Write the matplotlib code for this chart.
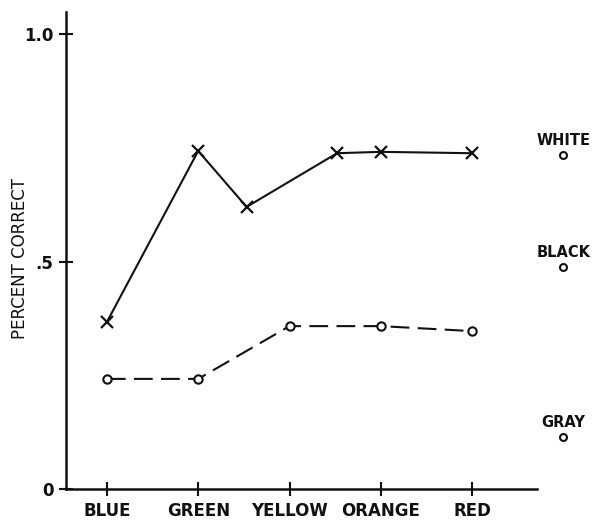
import matplotlib
matplotlib.use('Agg')
import matplotlib.pyplot as plt

# ── Data ──────────────────────────────────────────────────────────────────────
categories = ['BLUE', 'GREEN', 'YELLOW', 'ORANGE', 'RED']
cat_pos    = [0, 1, 2, 3, 4]

# X series (solid line) - includes two points between categories
x_pos  = [0, 1, 1.53, 2.52, 3, 4]
x_vals = [0.367, 0.743, 0.620, 0.738, 0.741, 0.738]

# O series (dashed line)
o_pos  = [0, 1, 2, 3, 4]
o_vals = [0.242, 0.242, 0.358, 0.358, 0.347]

# achromatic reference points on the right
ref_labels = ['WHITE', 'BLACK', 'GRAY']
ref_vals   = [0.734, 0.488, 0.114]
ref_pos    = 5.0

INK = '#111111'
FONT = dict(family='DejaVu Sans', fontweight='bold', color=INK)

fig = plt.figure(figsize=(5.98, 5.2), dpi=100)
ax = fig.add_axes([0.110, 0.0596, 0.788, 0.917])

ax.plot(x_pos, x_vals, color=INK, linewidth=1.5, marker='x',
        markersize=8, markeredgewidth=1.6, clip_on=False)
ax.plot(o_pos, o_vals, color=INK, linewidth=1.5, linestyle=(0, (9, 4)),
        marker='o', markersize=6, markerfacecolor='white',
        markeredgewidth=1.5, clip_on=False)

for lab, v in zip(ref_labels, ref_vals):
    ax.plot([ref_pos], [v], marker='o', markersize=5, color=INK,
            markerfacecolor='white', markeredgewidth=1.5, clip_on=False)
    ax.annotate(lab, xy=(ref_pos, v), xytext=(0, 5), textcoords='offset points',
                ha='center', va='bottom', fontsize=10.5, annotation_clip=False,
                **FONT)

ax.set_xlim(-0.45, 4.71)
ax.set_ylim(0, 1.048)

ax.set_xticks(cat_pos)
ax.set_xticklabels(categories, fontsize=12, **FONT)
ax.set_yticks([0, 0.5, 1.0])
ax.set_yticklabels(['0', '.5', '1.0'], fontsize=12, **FONT)
ax.tick_params(direction='inout', length=10, width=1.5, color=INK, pad=4)

fig.text(20 / 598, 0.502, 'PERCENT CORRECT', rotation=90, ha='center',
         va='center', fontsize=12, fontfamily='DejaVu Sans', color=INK)

for s in ['top', 'right']:
    ax.spines[s].set_visible(False)
for s in ['left', 'bottom']:
    ax.spines[s].set_linewidth(1.8)
    ax.spines[s].set_color(INK)

plt.savefig('out.png', dpi=100)
plt.close()
